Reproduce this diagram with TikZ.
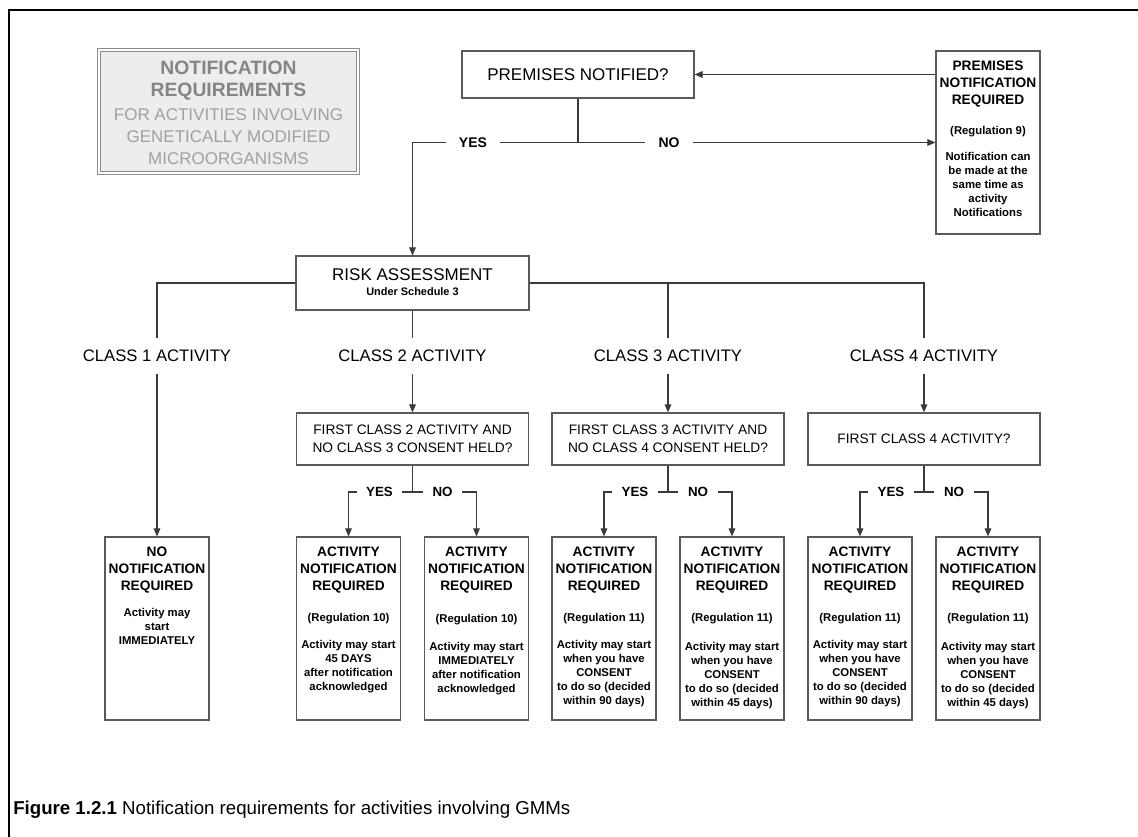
\documentclass[tikz,border=0pt]{standalone}
\usepackage{fontspec}
\setmainfont{Liberation Sans}
\usetikzlibrary{arrows.meta}
\definecolor{lincol}{HTML}{3A3A3A}
\definecolor{boxcol}{HTML}{5A5A5A}
\definecolor{titlefill}{HTML}{EDEDED}
\definecolor{titledark}{HTML}{858585}
\definecolor{titlelight}{HTML}{A0A0A0}
\definecolor{titleborder}{HTML}{8C8C8C}
\begin{document}
\begin{tikzpicture}[x=0.75pt,y=-0.75pt,
 conn/.style={draw=lincol, line width=0.8pt},
 arr/.style={conn, -{Triangle[length=6pt,width=5pt]}},
 box/.style={draw=boxcol, line width=0.9pt, rectangle, inner sep=0pt},
 actbox/.style={box, minimum width=78pt, minimum height=137.25pt},
 decbox/.style={box, minimum width=174pt, minimum height=39pt, align=center, font=\fontsize{10.3}{13.5}\selectfont},
 clabel/.style={font=\fontsize{12.5}{14}\selectfont, inner xsep=0pt, inner ysep=9pt, text height=9pt, text depth=0pt},
 yn/.style={font=\bfseries\fontsize{10}{12}\selectfont, inner xsep=7pt, inner ysep=0pt, text height=7.2pt, text depth=0pt},
 hdr/.style={font=\bfseries\fontsize{10.3}{12.75}\selectfont, align=center, anchor=north, inner sep=0pt},
 small/.style={font=\bfseries\fontsize{8.5}{10.5}\selectfont, align=center, inner sep=0pt},
 bodytxt/.style={small, anchor=north},
 ttl/.style={inner sep=0pt}
]
\useasboundingbox (0,0) rectangle (1138,837);
% frame
\draw[line width=1.6pt] (9,837) -- (9,10) -- (1138,10);

% title block
\node[draw=titleborder, double=white, double distance=1.6pt, line width=0.9pt, fill=titlefill,
      minimum width=194pt, minimum height=92.5pt, inner sep=0pt] (title) at (228.5,111.5) {};
\node[ttl, font=\bfseries\fontsize{14.5}{17}\selectfont, text=titledark] (t1) at (228.5,68) {NOTIFICATION};
\node[ttl, font=\bfseries\fontsize{14.5}{17}\selectfont, text=titledark] (t2) at (228.5,92) {REQUIREMENTS};
\node[ttl, font=\fontsize{12.75}{15}\selectfont, text=titlelight] (t3) at (228.5,115) {FOR ACTIVITIES INVOLVING};
\node[ttl, font=\fontsize{12.75}{15}\selectfont, text=titlelight] (t4) at (228.5,137) {GENETICALLY MODIFIED};
\node[ttl, font=\fontsize{12.75}{15}\selectfont, text=titlelight] (t5) at (228.5,159) {MICROORGANISMS};

% premises notified
\node[box, minimum width=174pt, minimum height=35.25pt, font=\fontsize{12.75}{14}\selectfont] (pn) at (578,74.5) {PREMISES NOTIFIED?};

% premises notification required
\node[actbox] (pr) at (988,142.5) {};
\node[hdr] (prh) at ([yshift=-7.5pt]pr.north) {PREMISES\\NOTIFICATION\\REQUIRED};
\node[small] (prr) at ([yshift=-61pt]pr.north) {(Regulation 9)};
\node[bodytxt] (prb) at ([yshift=-76.5pt]pr.north) {Notification can\\be made at the\\same time as\\activity\\Notifications};

\draw[arr] (pr.west |- pn.east) -- (pn.east);

% first decision
\coordinate (j0) at (578,142.5);
\node[yn, font=\bfseries\fontsize{10.5}{12}\selectfont, inner xsep=9.5pt] (y0) at (473,142.5) {YES};
\node[yn, font=\bfseries\fontsize{10.5}{12}\selectfont, inner xsep=10pt] (n0) at (669,142.5) {NO};

% risk assessment
\node[box, minimum width=174.75pt, minimum height=40.5pt] (risk) at (412.5,283) {};
\node[inner sep=0pt, font=\fontsize{12.75}{14}\selectfont] (rt) at (412.5,275) {RISK ASSESSMENT};
\node[inner sep=0pt, font=\bfseries\fontsize{8.2}{9}\selectfont] (rs) at (412.5,292) {Under Schedule 3};

\draw[conn] (pn.south) -- (j0);
\draw[conn] (y0.east) -- (n0.west);
\draw[arr] (n0.east) -- (pr.west);
\draw[arr] (y0.west) -| (risk.north);

% class labels
\node[clabel] (c1) at (157,356) {CLASS 1 ACTIVITY};
\node[clabel] (c2) at (412.5,356) {CLASS 2 ACTIVITY};
\node[clabel] (c3) at (668,356) {CLASS 3 ACTIVITY};
\node[clabel] (c4) at (924,356) {CLASS 4 ACTIVITY};

\draw[conn] (risk.west) -| (c1.north);
\draw[conn] (risk.east) -| (c4.north);
\draw[conn] (c3.north |- risk.east) -- (c3.north);
\draw[conn] (risk.south) -- (c2.north);

% decision boxes
\node[decbox] (d2) at (412.5,439) {FIRST CLASS 2 ACTIVITY AND\\NO CLASS 3 CONSENT HELD?};
\node[decbox] (d3) at (668,439) {FIRST CLASS 3 ACTIVITY AND\\NO CLASS 4 CONSENT HELD?};
\node[decbox] (d4) at (924,439) {FIRST CLASS 4 ACTIVITY?};

\draw[arr] (c2.south) -- (d2.north);
\draw[arr] (c3.south) -- (d3.north);
\draw[arr] (c4.south) -- (d4.north);

% activity boxes
\node[actbox] (a1) at (157,628.5) {};
\node[actbox] (a2y) at (348.5,628.5) {};
\node[actbox] (a2n) at (476.5,628.5) {};
\node[actbox] (a3y) at (604,628.5) {};
\node[actbox] (a3n) at (732,628.5) {};
\node[actbox] (a4y) at (860,628.5) {};
\node[actbox] (a4n) at (988,628.5) {};

\draw[arr] (c1.south) -- (a1.north);

% yes/no branches
\coordinate (j2) at (412.5,492);
\node[yn] (y2) at (379.5,492) {YES};
\node[yn] (n2) at (442.5,492) {NO};
\coordinate (j3) at (668,492);
\node[yn] (y3) at (635,492) {YES};
\node[yn] (n3) at (698,492) {NO};
\coordinate (j4) at (924,492);
\node[yn] (y4) at (891,492) {YES};
\node[yn] (n4) at (954,492) {NO};

\draw[conn] (d2.south) -- (j2);
\draw[conn] (y2.east) -- (n2.west);
\draw[arr] (y2.west) -| (a2y.north);
\draw[arr] (n2.east) -| (a2n.north);
\draw[conn] (d3.south) -- (j3);
\draw[conn] (y3.east) -- (n3.west);
\draw[arr] (y3.west) -| (a3y.north);
\draw[arr] (n3.east) -| (a3n.north);
\draw[conn] (d4.south) -- (j4);
\draw[conn] (y4.east) -- (n4.west);
\draw[arr] (y4.west) -| (a4y.north);
\draw[arr] (n4.east) -| (a4n.north);

% texts in activity boxes
\node[hdr] (a1h) at ([yshift=-7.5pt]a1.north) {NO\\NOTIFICATION\\REQUIRED};
\node[bodytxt] (a1b) at ([yshift=-54pt]a1.north) {Activity may\\start\\IMMEDIATELY};

\node[hdr] (a2yh) at ([yshift=-7.5pt]a2y.north) {ACTIVITY\\NOTIFICATION\\REQUIRED};
\node[small] (a2yr) at ([yshift=-61.5pt]a2y.north) {(Regulation 10)};
\node[bodytxt] (a2yb) at ([yshift=-77.5pt]a2y.north) {Activity may start\\45 DAYS\\after notification\\acknowledged};

\node[hdr] (a2nh) at ([yshift=-7.5pt]a2n.north) {ACTIVITY\\NOTIFICATION\\REQUIRED};
\node[small] (a2nr) at ([yshift=-62.5pt]a2n.north) {(Regulation 10)};
\node[bodytxt] (a2nb) at ([yshift=-79pt]a2n.north) {Activity may start\\IMMEDIATELY\\after notification\\acknowledged};

\node[hdr] (a3yh) at ([yshift=-7.5pt]a3y.north) {ACTIVITY\\NOTIFICATION\\REQUIRED};
\node[small] (a3yr) at ([yshift=-61.5pt]a3y.north) {(Regulation 11)};
\node[bodytxt] (a3yb) at ([yshift=-77.5pt]a3y.north) {Activity may start\\when you have\\CONSENT\\to do so (decided\\within 90 days)};

\node[hdr] (a3nh) at ([yshift=-7.5pt]a3n.north) {ACTIVITY\\NOTIFICATION\\REQUIRED};
\node[small] (a3nr) at ([yshift=-61.5pt]a3n.north) {(Regulation 11)};
\node[bodytxt] (a3nb) at ([yshift=-79pt]a3n.north) {Activity may start\\when you have\\CONSENT\\to do so (decided\\within 45 days)};

\node[hdr] (a4yh) at ([yshift=-7.5pt]a4y.north) {ACTIVITY\\NOTIFICATION\\REQUIRED};
\node[small] (a4yr) at ([yshift=-61.5pt]a4y.north) {(Regulation 11)};
\node[bodytxt] (a4yb) at ([yshift=-77.5pt]a4y.north) {Activity may start\\when you have\\CONSENT\\to do so (decided\\within 90 days)};

\node[hdr] (a4nh) at ([yshift=-7.5pt]a4n.north) {ACTIVITY\\NOTIFICATION\\REQUIRED};
\node[small] (a4nr) at ([yshift=-61.5pt]a4n.north) {(Regulation 11)};
\node[bodytxt] (a4nb) at ([yshift=-79pt]a4n.north) {Activity may start\\when you have\\CONSENT\\to do so (decided\\within 45 days)};

% caption
\node[anchor=base west, inner sep=0pt, font=\fontsize{14}{16}\selectfont] (cap) at (13,814)
  {\textbf{Figure 1.2.1} Notification requirements for activities involving GMMs};
\end{tikzpicture}
\end{document}
